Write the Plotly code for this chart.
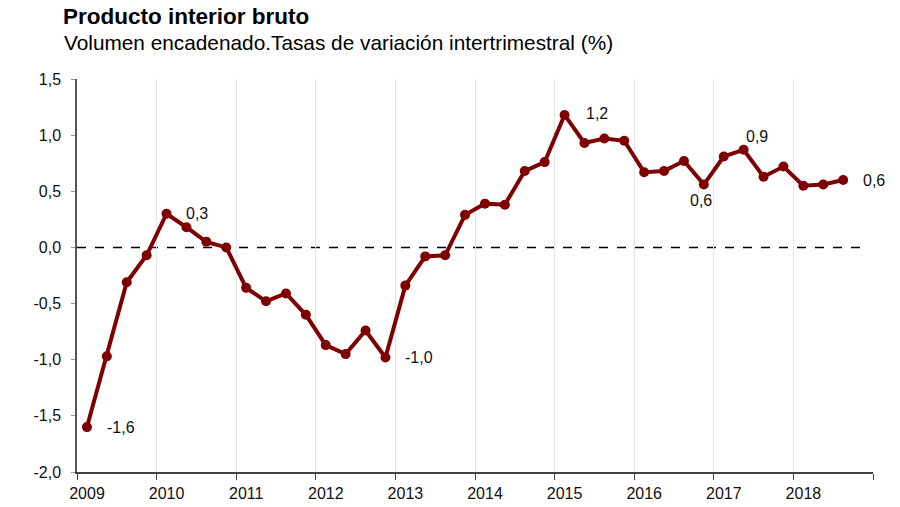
import plotly.graph_objects as go

# Quarterly GDP growth, chained volume, q/q %  (2009Q1 .. 2018Q3)
years = list(range(2009, 2019))
quarters = [1, 2, 3, 4]
growth = [
    -1.60, -0.97, -0.31, -0.07,   # 2009
    0.30, 0.18, 0.05, 0.00,       # 2010
    -0.36, -0.48, -0.41, -0.60,   # 2011
    -0.87, -0.95, -0.74, -0.98,   # 2012
    -0.34, -0.08, -0.07, 0.29,    # 2013
    0.39, 0.38, 0.68, 0.76,       # 2014
    1.18, 0.93, 0.97, 0.95,       # 2015
    0.67, 0.68, 0.77, 0.56,       # 2016
    0.81, 0.87, 0.63, 0.72,       # 2017
    0.55, 0.56, 0.60,             # 2018
]
year_ticks = list(range(2009, 2020))
y_ticks = [-2.0, -1.5, -1.0, -0.5, 0.0, 0.5, 1.0, 1.5]
# points that carry a value label
labelled = [0, 4, 15, 24, 31, 33, 38]

RED = "#7f0000"


def es(v):
    # spanish decimal comma, plain hyphen for negatives
    return f"{v:.1f}".replace(".", ",")


# x position = middle of each quarter
xs = []
for y in years:
    for q in quarters:
        xs.append(y + (q - 0.5) / 4)
xs = xs[:len(growth)]

fig = go.Figure()
fig.add_trace(go.Scatter(
    x=xs, y=growth,
    mode="lines+markers",
    line=dict(color=RED, width=4),
    marker=dict(color=RED, size=10),
    hoverinfo="x+y",
    showlegend=False,
))

# zero reference line
fig.add_shape(type="line", xref="x", yref="y",
              x0=year_ticks[0], x1=xs[-1] + 0.25, y0=0, y1=0,
              line=dict(color="#000000", width=1.5, dash="dash"), layer="below")

# value labels: (xshift, yshift, anchor) per labelled point
offsets = {
    0: (18, 0, "left"),
    4: (17, 0, "left"),
    15: (18, 0, "left"),
    24: (19, 1, "left"),
    31: (-3, -16, "center"),
    33: (0, 13, "left"),
    38: (18, 0, "left"),
}
for i in labelled:
    dx, dy, anchor = offsets[i]
    fig.add_annotation(
        x=xs[i], y=growth[i],
        text=es(growth[i]),
        showarrow=False, xanchor=anchor, yanchor="middle",
        xshift=dx, yshift=dy,
        font=dict(size=16, color="#111111"),
    )

# titles
fig.add_annotation(
    text="<b>Producto interior bruto</b>",
    xref="paper", yref="paper", x=-15 / 796, y=(472 - 16) / 393,
    xanchor="left", yanchor="middle", showarrow=False, borderpad=0,
    font=dict(size=22.5, color="#000000"),
)
fig.add_annotation(
    text="Volumen encadenado.Tasas de variación intertrimestral (%)",
    xref="paper", yref="paper", x=-15 / 796, y=(472 - 42) / 393,
    xanchor="left", yanchor="middle", showarrow=False,
    font=dict(size=20.8, color="#000000"),
)

fig.update_layout(
    width=892, height=499,
    paper_bgcolor="white", plot_bgcolor="white",
    font=dict(family="Liberation Sans, Arial, sans-serif", color="#111111", size=16),
    margin=dict(l=69, r=27, t=71, b=35),
    xaxis=dict(
        range=[year_ticks[0], year_ticks[-1]],
        tickvals=year_ticks,
        ticktext=[str(y) if y < year_ticks[-1] else "" for y in year_ticks],
        ticklabelshift=10,
        showgrid=True, gridcolor="#e3e5ee", gridwidth=1,
        showline=True, linecolor="#444444", linewidth=1.5,
        ticks="outside", ticklen=6, tickcolor="#444444",
        zeroline=False, tickfont=dict(size=16), automargin=False,
    ),
    yaxis=dict(
        range=[-2, 1.5],
        tickvals=y_ticks, ticktext=[es(v) for v in y_ticks],
        ticklabelstandoff=7,
        showgrid=False, showline=True, linecolor="#555555", linewidth=1.5,
        ticks="outside", ticklen=4, tickcolor="#999999",
        zeroline=False, tickfont=dict(size=16), automargin=False,
    ),
)

fig.write_html("out.html")
